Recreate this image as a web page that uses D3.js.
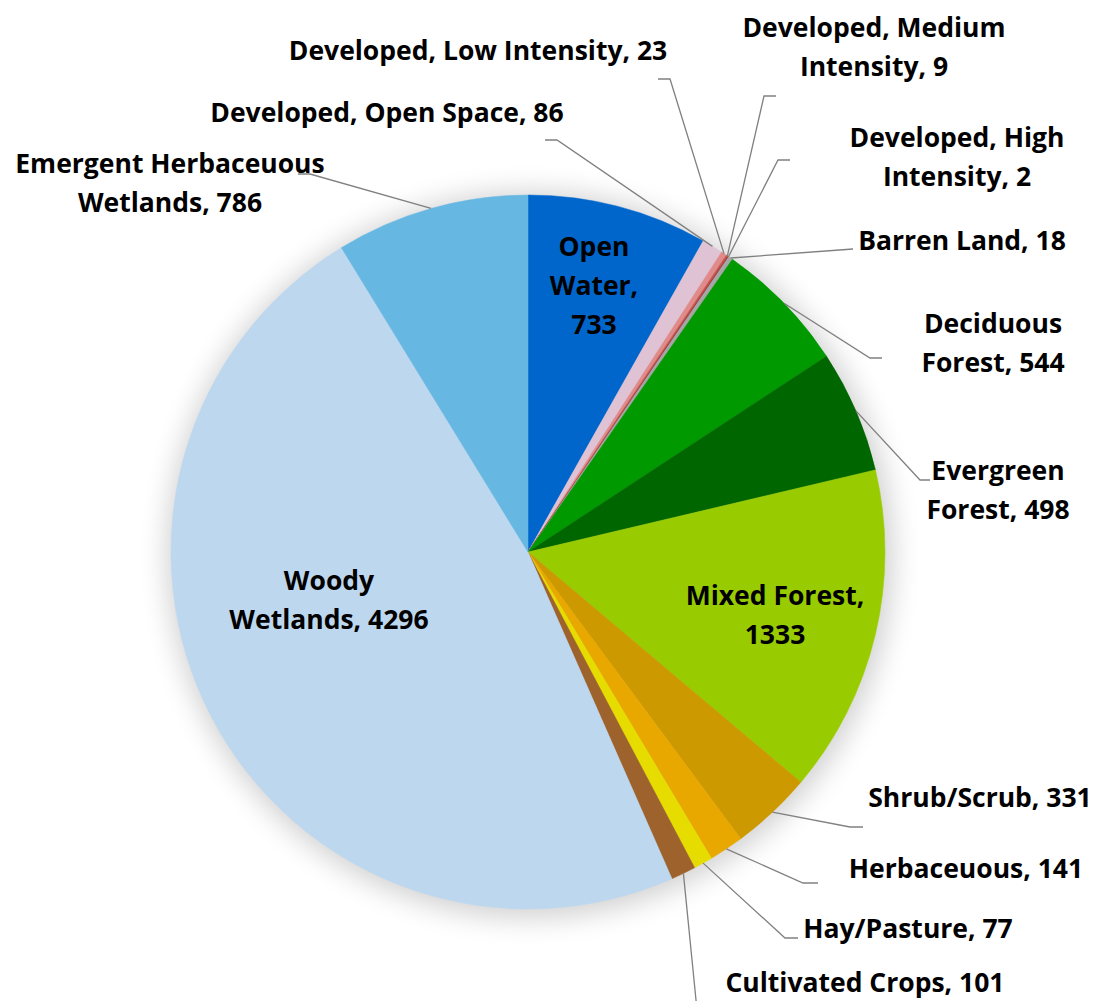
<html>
<head>
    <title>Land cover pie</title>
    <script src="https://d3js.org/d3.v7.min.js"></script>
    <style>
        body { margin: 0; background: #fff; }
        text { font-family: "Open Sans", Lato, sans-serif; font-weight: bold; font-size: 26.5px; fill: #000; }
    </style>
</head>
<body>
    <script>
        // land cover classes, clockwise from 12 o'clock
        var categories = ["Open Water", "Developed, Open Space", "Developed, Low Intensity", "Developed, Medium Intensity",
            "Developed, High Intensity", "Barren Land", "Deciduous Forest", "Evergreen Forest", "Mixed Forest",
            "Shrub/Scrub", "Herbaceuous", "Hay/Pasture", "Cultivated Crops", "Woody Wetlands", "Emergent Herbaceuous Wetlands"];
        var values = [733, 86, 23, 9, 2, 18, 544, 498, 1333, 331, 141, 77, 101, 4296, 786];
        var colors = ["#0066cc", "#e0c2d5", "#e08a8a", "#c0504d", "#8b1a1a", "#a6a6a6", "#009900", "#006600", "#99cc00",
            "#cc9900", "#e8a800", "#e6dc00", "#9e622d", "#bdd7ee", "#66b8e3"];

        var width = 1102, height = 1001;
        var cx = 528, cy = 552, radius = 357;

        // label layout: centre of first line, words per line, leader end + elbow (null = label inside)
        var layout = [
            { x: 594, y: 246, words: [1, 1, 1], end: null },
            { x: 387, y: 112, words: [4], end: [545, 140], elbow: [557, 140] },
            { x: 478, y: 50, words: [4], end: [658, 79], elbow: [670, 79] },
            { x: 874, y: 27, words: [2, 2], end: [776, 96], elbow: [764, 96] },
            { x: 957, y: 137, words: [2, 2], end: [790, 160], elbow: [778, 160] },
            { x: 962, y: 240, words: [3], end: [853, 249], elbow: [853, 249] },
            { x: 993, y: 323, words: [1, 2], end: [882, 358], elbow: [870, 358] },
            { x: 998, y: 470, words: [1, 2], end: [930, 480], elbow: [920, 480] },
            { x: 775, y: 595, words: [2, 1], end: null },
            { x: 980, y: 797, words: [2], end: [863, 827], elbow: [850, 827] },
            { x: 966, y: 868, words: [2], end: [818, 883], elbow: [803, 883] },
            { x: 908, y: 928, words: [2], end: [798, 938], elbow: [785, 938] },
            { x: 865, y: 982, words: [3], end: [697, 1010], elbow: [697, 1010] },
            { x: 329, y: 580, words: [1, 2], end: null },
            { x: 170, y: 163, words: [2, 2], end: [298, 174], elbow: [310, 174] }
        ];
        var lineHeight = 39;

        var svg = d3.select('body')
            .append('svg')
            .attr('width', width)
            .attr('height', height);

        var defs = svg.append('defs');
        defs.append('filter')
            .attr('id', 'glow')
            .attr('x', '-20%').attr('y', '-20%').attr('width', '140%').attr('height', '140%')
            .append('feGaussianBlur')
            .attr('stdDeviation', 14);

        // soft shadow round the pie
        svg.append('circle')
            .attr('cx', cx + 2)
            .attr('cy', cy + 3)
            .attr('r', radius + 6)
            .attr('fill', '#000')
            .attr('opacity', 0.18)
            .attr('filter', 'url(#glow)');

        var data = categories.map(function (c, i) { return { name: c, value: values[i], color: colors[i], lay: layout[i] }; });

        var pie = d3.pie().sort(null).value(function (d) { return d.value; });
        var arcs = pie(data);

        var arc = d3.arc().innerRadius(0).outerRadius(radius);
        var edge = d3.arc().innerRadius(radius).outerRadius(radius);

        var g = svg.append('g').attr('transform', 'translate(' + cx + ',' + cy + ')');

        g.selectAll('path')
            .data(arcs)
            .enter()
            .append('path')
            .attr('fill', function (d) { return d.data.color; })
            .attr('stroke', function (d) { return d.data.color; })
            .attr('stroke-width', 0.5)
            .attr('d', arc);

        // leader lines
        svg.append('g').selectAll('polyline')
            .data(arcs.filter(function (d) { return d.data.lay.end; }))
            .enter()
            .append('polyline')
            .attr('fill', 'none')
            .attr('stroke', '#808080')
            .attr('stroke-width', 1.3)
            .attr('points', function (d) {
                var p = edge.centroid(d);
                var l = d.data.lay;
                return [l.end, l.elbow, [p[0] + cx, p[1] + cy]].map(function (q) { return q.join(','); }).join(' ');
            });

        // labels
        var labels = svg.append('g').selectAll('text')
            .data(data)
            .enter()
            .append('text')
            .attr('text-anchor', 'middle')
            .attr('dominant-baseline', 'central');

        labels.each(function (d) {
            var words = (d.name + ', ' + d.value).split(' ');
            var t = d3.select(this), k = 0;
            d.lay.words.forEach(function (n, i) {
                t.append('tspan')
                    .attr('x', d.lay.x)
                    .attr('y', d.lay.y + i * lineHeight)
                    .text(words.slice(k, k + n).join(' '));
                k += n;
            });
        });
    </script>
</body>
</html>
